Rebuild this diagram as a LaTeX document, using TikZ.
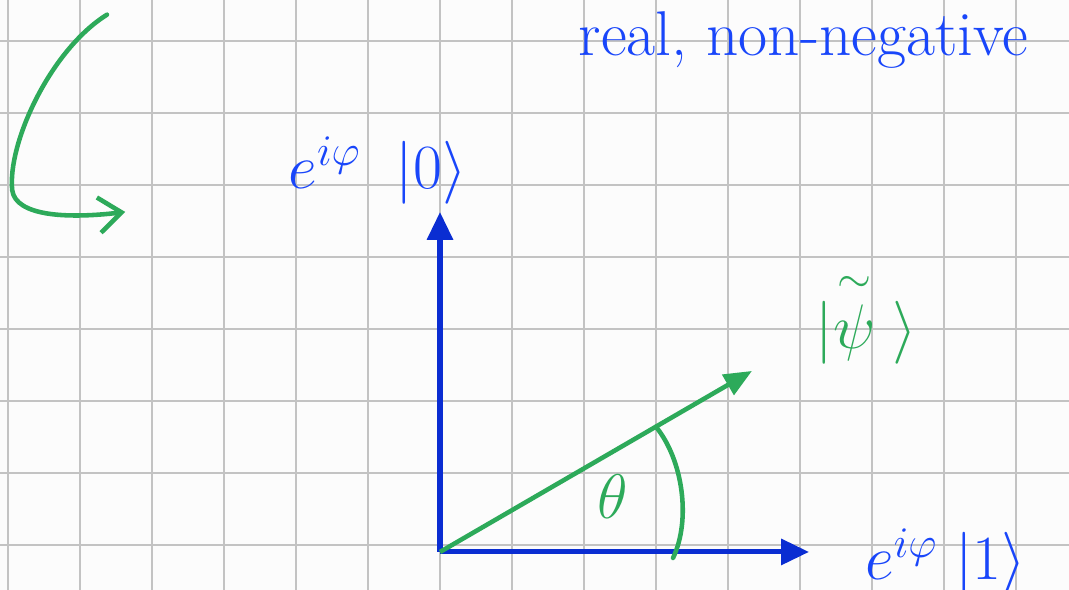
\documentclass[tikz,border=0pt]{standalone}
\usepackage{amsmath,amssymb}
\usepackage{xcolor}
\usepackage{tikz}
\usetikzlibrary{positioning,arrows.meta,calc}
\definecolor{inkblue}{RGB}{25,70,250}
\definecolor{axisblue}{RGB}{10,45,210}
\definecolor{inkgreen}{RGB}{45,170,90}
\definecolor{gridgray}{RGB}{195,195,195}
\definecolor{paper}{RGB}{252,252,252}

\begin{document}
\begin{tikzpicture}[
    gridline/.style={draw=gridgray, line width=0.9pt},
    axisarrow/.style={-{Triangle[length=11pt,width=10pt]}, line width=2pt, draw=axisblue},
    statearrow/.style={-{Triangle[length=11pt,width=9pt]}, line width=1.8pt, draw=inkgreen},
    ink/.style={text=#1, font=\fontsize{24}{28}\selectfont, inner sep=0pt},
]
\useasboundingbox[fill=paper] (0,0) rectangle (14.847,8.194);
% squared paper
\foreach \x in {0,...,14} \draw[gridline] (0.111+\x,0) -- (0.111+\x,8.194);
\foreach \y in {0,...,7} \draw[gridline] (0,0.629+\y) -- (14.847,0.629+\y);

% hook arrow top left
\coordinate (hookstart) at (1.486,7.99);
\coordinate (hookend) at (1.74,5.25);
\draw[inkgreen, line width=1.8pt, line cap=round, -{Straight Barb[length=9pt,width=14pt]}] (hookstart) .. controls (0.7,7.5) and (0.1,6.2) .. (0.17,5.55) .. controls (0.22,5.2) and (0.9,5.15) .. (hookend);

\node[ink=inkblue, font=\fontsize{25}{29}\selectfont, anchor=base west] (note) at (8.03,7.42) {real, non-negative};

% axes and state
\coordinate (O) at (6.111,0.528);
\coordinate (ytip) at (6.111,5.25);
\coordinate (xtip) at (11.236,0.528);
\coordinate (psitip) at (10.444,3.042);
\coordinate (arcend) at (9.347,0.444);
\draw[axisarrow] (O) -- (ytip);
\draw[axisarrow] (O) -- (xtip);
\draw[statearrow] (O) -- (psitip);
\draw[inkgreen, line width=1.8pt, line cap=round] ($(O)!0.692!(psitip)$) .. controls (9.486,1.806) and (9.60,0.972) .. (arcend);

\node[ink=inkblue, anchor=base west] (zerolabel) at (4.0,5.58) {$e^{i\varphi}\;\;|0\rangle$};
\node[ink=inkblue, font=\fontsize{23}{27}\selectfont, anchor=base west] (onelabel) at (12.01,0.14) {$e^{i\varphi}\;|1\rangle$};
\node[ink=inkgreen, anchor=base west] (psilabel) at (11.32,3.36) {$|\overset{\sim}{\psi}\;\rangle$};
\node[ink=inkgreen, font=\fontsize{28}{32}\selectfont] (theta) at (8.514,1.29) {$\theta$};
\end{tikzpicture}
\end{document}
